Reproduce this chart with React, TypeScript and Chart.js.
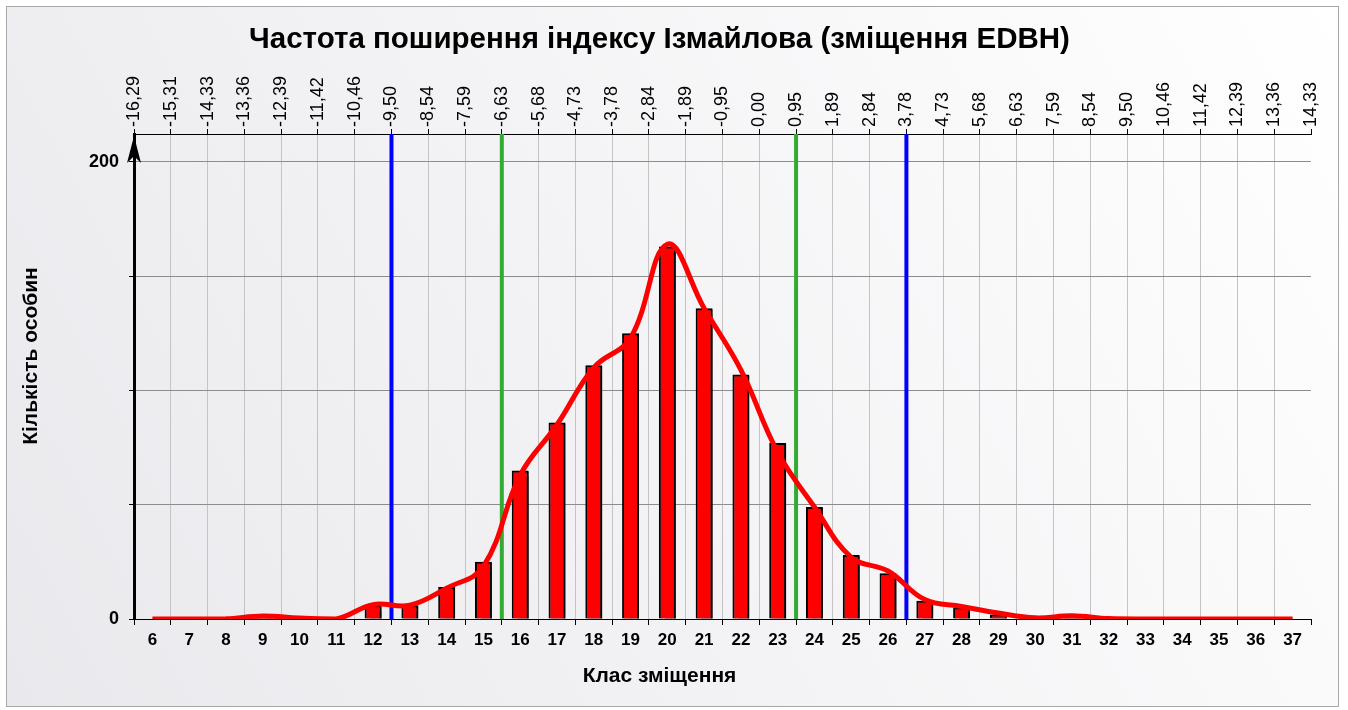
import React, { useEffect, useRef } from "react";
import { Chart, registerables } from "chart.js";

Chart.register(...registerables);

const categories = ["6","7","8","9","10","11","12","13","14","15","16","17","18","19","20","21","22","23","24","25","26","27","28","29","30","31","32","33","34","35","36","37"];
const counts = [0,0,0,1,0,0,6,6,14,25,65,86,111,125,163,136,107,77,49,28,20,8,5,2,0,1,0,0,0,0,0,0];
const smoothCurve = [0,0,0.1,1.3,0.4,0,6.3,6,13.5,23,63,85,110,123,164,136,109,73,49,27,21,8.5,5.5,2.6,0.5,1.4,0.2,0,0,0,0,0];
const topLabels = ["-16,29","-15,31","-14,33","-13,36","-12,39","-11,42","-10,46","-9,50","-8,54","-7,59","-6,63","-5,68","-4,73","-3,78","-2,84","-1,89","-0,95","0,00","0,95","1,89","2,84","3,78","4,73","5,68","6,63","7,59","8,54","9,50","10,46","11,42","12,39","13,36","14,33"];
const blueLines = ["-9,50","3,78"];
const greenLines = ["-6,63","0,95"];
const yLabeled = [0, 200];
const chartTitle = "Частота поширення індексу Ізмайлова (зміщення EDBH)";
const xTitle = "Клас зміщення";
const yTitle = "Кількість особин";

const FONT = "'Liberation Sans', Arial, sans-serif";
const TOP_FONT_SIZE = 18;

const framePlugin = {
  id: "frame",
  beforeDraw(chart: any) {
    const { ctx, width, height } = chart;
    ctx.save();
    ctx.fillStyle = "#ffffff";
    ctx.fillRect(0, 0, width, height);
    const g = ctx.createLinearGradient(width, 0, 0, height);
    g.addColorStop(0, "#ffffff");
    g.addColorStop(1, "#e9e9ed");
    ctx.fillStyle = g;
    ctx.fillRect(6, 6, width - 15, height - 9);
    ctx.strokeStyle = "#a8a8a8";
    ctx.lineWidth = 1;
    ctx.strokeRect(6.5, 6.5, width - 16, height - 10);
    ctx.restore();
  },
};

const yTitlePlugin = {
  id: "yTitle",
  afterDraw(chart: any) {
    const { ctx } = chart;
    ctx.save();
    ctx.translate(31, 356);
    ctx.rotate(-Math.PI / 2);
    ctx.fillStyle = "#000";
    ctx.font = `bold 21px ${FONT}`;
    ctx.textAlign = "center";
    ctx.textBaseline = "middle";
    ctx.fillText(yTitle, 0, 0);
    ctx.restore();
  },
};

const refLinesPlugin = {
  id: "refLines",
  beforeDatasetsDraw(chart: any) {
    const { ctx, chartArea } = chart;
    const sx = chart.scales.x2;
    const draw = (labels: string[], color: string) => {
      labels.forEach((l) => {
        const idx = topLabels.indexOf(l);
        const px = sx.getPixelForValue(idx);
        ctx.save();
        ctx.strokeStyle = color;
        ctx.lineWidth = 4;
        ctx.beginPath();
        ctx.moveTo(px, chartArea.top);
        ctx.lineTo(px, chartArea.bottom);
        ctx.stroke();
        ctx.restore();
      });
    };
    draw(blueLines, "#0000ff");
    draw(greenLines, "#33aa33");
  },
};

const shadowPlugin = {
  id: "barShadow",
  beforeDatasetDraw(chart: any, args: any) {
    if (args.index === 0) {
      const ctx = chart.ctx;
      ctx.save();
      ctx.shadowColor = "rgba(0,0,0,0.75)";
      ctx.shadowOffsetX = 2;
      ctx.shadowOffsetY = 1;
      ctx.shadowBlur = 1;
    }
  },
  afterDatasetDraw(chart: any, args: any) {
    if (args.index === 0) chart.ctx.restore();
  },
};

const arrowPlugin = {
  id: "yArrow",
  afterDraw(chart: any) {
    const { ctx, chartArea } = chart;
    const x = chartArea.left;
    const t = chartArea.top + 2;
    ctx.save();
    ctx.fillStyle = "#000";
    ctx.beginPath();
    ctx.moveTo(x, t);
    ctx.lineTo(x + 7, t + 27);
    ctx.lineTo(x, t + 20);
    ctx.lineTo(x - 7, t + 27);
    ctx.closePath();
    ctx.fill();
    ctx.restore();
  },
};

export default function App() {
  const ref = useRef<HTMLCanvasElement>(null);
  useEffect(() => {
    if (!ref.current) return;
    const chart = new Chart(ref.current, {
      type: "bar",
      data: {
        labels: categories,
        datasets: [
          {
            type: "bar",
            data: counts,
            backgroundColor: "#ff0000",
            borderColor: "#000000",
            borderWidth: 2,
            barPercentage: 0.5,
            categoryPercentage: 0.92,
            order: 1,
            xAxisID: "x",
            yAxisID: "y",
          } as any,
          {
            type: "line",
            data: smoothCurve,
            borderColor: "#ff0000",
            borderWidth: 5,
            tension: 0.4,
            pointRadius: 0,
            fill: false,
            order: 0,
            xAxisID: "x",
            yAxisID: "y",
          } as any,
        ],
      },
      options: {
        responsive: false,
        animation: false,
        layout: { padding: { left: 8, right: 37, top: 0, bottom: 0 } },
        plugins: {
          legend: { display: false },
          tooltip: { enabled: false },
          title: {
            display: true,
            text: chartTitle,
            color: "#000",
            font: { family: FONT, size: 29.5, weight: "bold" },
            padding: { top: 22, bottom: 2.6 },
          },
          subtitle: {
            display: true,
            position: "bottom",
            text: xTitle,
            color: "#000",
            font: { family: FONT, size: 21, weight: "bold" },
            padding: { top: 0, bottom: 20.8 },
          },
        },
        scales: {
          x: {
            type: "category",
            position: "bottom",
            offset: true,
            grid: {
              offset: true,
              drawOnChartArea: false,
              color: "#000",
              tickLength: 6,
            },
            border: { display: true, color: "#000", width: 1 },
            ticks: {
              color: "#000",
              font: { family: FONT, size: 17, weight: "bold" },
              maxRotation: 0,
              autoSkip: false,
              padding: 5,
            },
            afterFit(scale: any) {
              scale.height = 45;
            },
          },
          x2: {
            type: "linear",
            position: "top",
            offset: false,
            min: 0,
            max: topLabels.length - 1,
            grid: {
              offset: false,
              color: (c: any) => (c.index === topLabels.length - 1 || c.index === 0 ? "rgba(0,0,0,0)" : "#c4c4c4"),
              tickColor: "#000",
              tickLength: 5,
              drawOnChartArea: true,
            },
            border: { display: true, color: "#000", width: 1 },
            ticks: {
              stepSize: 1,
              autoSkip: false,
              maxRotation: 90,
              minRotation: 90,
              color: "#000",
              padding: 2,
              labelOffset: TOP_FONT_SIZE * 1.2,
              font: { family: FONT, size: TOP_FONT_SIZE },
              callback: (v: any) => topLabels[Math.round(Number(v))],
            },
            afterFit(scale: any) {
              scale.height = 74;
            },
          } as any,
          y: {
            type: "linear",
            position: "left",
            min: 0,
            max: 212.25,
            grid: {
              color: "#8c8c8c",
              tickColor: "#000",
              tickLength: 5,
            },
            border: { display: true, color: "#000", width: 3 },
            ticks: {
              stepSize: 50,
              includeBounds: false,
              color: "#000",
              font: { family: FONT, size: 18, weight: "bold" },
              padding: 10,
              callback: (v: any) => (yLabeled.includes(Number(v)) ? String(v) : ""),
            },
            afterFit(scale: any) {
              scale.width = 126;
            },
          } as any,
        },
      },
      plugins: [framePlugin, refLinesPlugin, shadowPlugin, arrowPlugin, yTitlePlugin],
    });
    return () => chart.destroy();
  }, []);
  return (
    <div style={{ position: "fixed", left: 0, top: 0, width: 1348, height: 710 }}>
      <canvas ref={ref} width={1348} height={710} style={{ width: 1348, height: 710, display: "block" }} />
    </div>
  );
}
